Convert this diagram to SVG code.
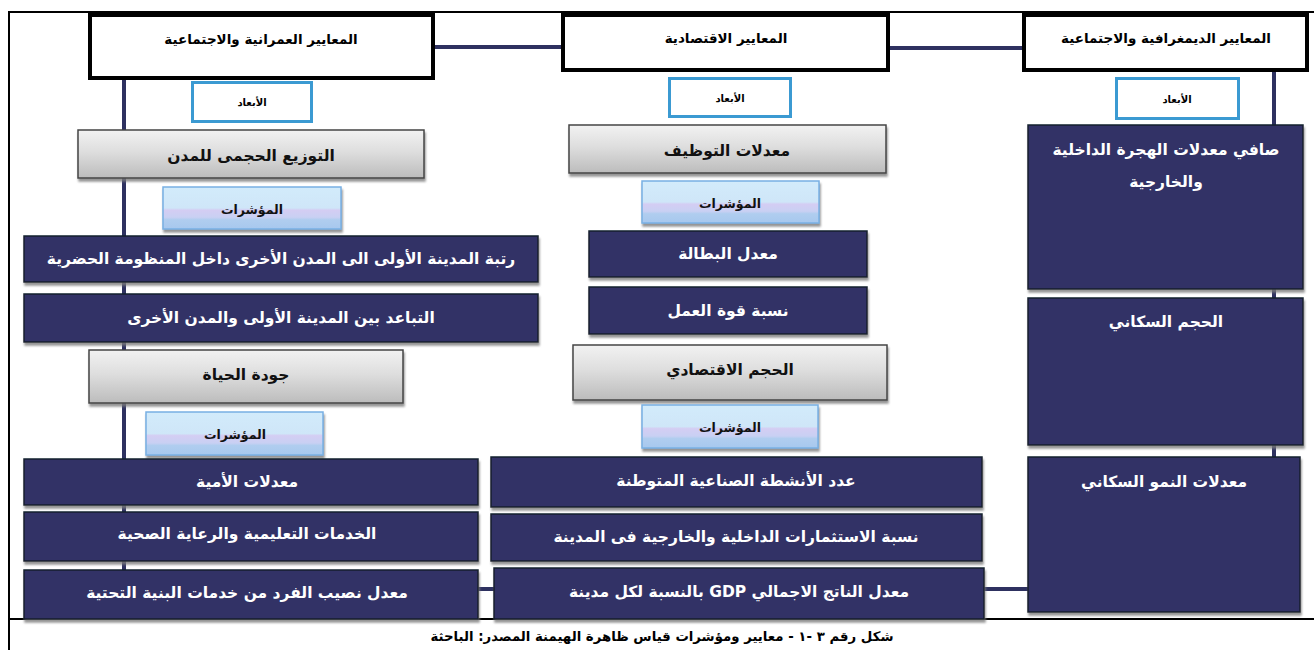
<svg xmlns="http://www.w3.org/2000/svg" width="1314" height="650" viewBox="0 0 1314 650">
<defs>
<linearGradient id="gGray" x1="0" y1="0" x2="0" y2="1">
<stop offset="0" stop-color="#f2f2f2"/>
<stop offset="0.45" stop-color="#dedede"/>
<stop offset="1" stop-color="#bcbcbc"/>
</linearGradient>
<linearGradient id="gInd" x1="0" y1="0" x2="0" y2="1">
<stop offset="0" stop-color="#d2ebfb"/>
<stop offset="0.5" stop-color="#cfe6f8"/>
<stop offset="0.55" stop-color="#d4cdf3"/>
<stop offset="0.72" stop-color="#c9d0f3"/>
<stop offset="0.78" stop-color="#b0cdef"/>
<stop offset="1" stop-color="#a7c8ee"/>
</linearGradient>
<filter id="sh" x="-5%" y="-10%" width="110%" height="140%">
<feDropShadow dx="1" dy="3" stdDeviation="1" flood-color="#7a7a7a" flood-opacity="0.8"/>
</filter>
</defs>
<style>
text{font-family:"DejaVu Sans","Liberation Sans",sans-serif;font-weight:bold;text-anchor:middle;direction:rtl}
.hdr rect{fill:#ffffff;stroke:#000;stroke-width:4}
.hdr text{font-size:13.5px;fill:#000}
.dim rect{fill:#fff;stroke:#3b9ad2;stroke-width:3}
.dim text{font-size:10px;fill:#000}
.gray rect{fill:url(#gGray);stroke:#454545;stroke-width:1.5;filter:url(#sh)}
.gray text{font-size:15.5px;fill:#111}
.ind rect{fill:url(#gInd);stroke:#78b0e4;stroke-width:1.5;filter:url(#sh)}
.ind text{font-size:12.5px;fill:#111}
.nav rect{fill:#333366;stroke:#15202e;stroke-width:1.5;filter:url(#sh)}
.nav text{font-size:15.5px;fill:#fff}
.con line{stroke:#2e3160;stroke-width:4}
.frame line{stroke:#000;stroke-width:2}
</style>
<rect x="0" y="0" width="1314" height="650" fill="#fff"/>
<g class="frame">
<line x1="8" y1="12" x2="1314" y2="12"/>
<line x1="9" y1="12" x2="9" y2="650"/>
<line x1="8" y1="619" x2="1314" y2="619"/>
</g>
<g class="con" id="connectors">
<line x1="124" y1="78" x2="124" y2="572"/>
<line x1="1274" y1="72" x2="1274" y2="459"/>
<line x1="435" y1="47" x2="563" y2="47"/>
<line x1="888" y1="48" x2="1024" y2="48"/>
<line x1="476" y1="589" x2="496" y2="589"/>
<line x1="982" y1="589" x2="1030" y2="589"/>
</g>
<g class="hdr" id="h-left"><rect x="90" y="15" width="343" height="63"/><text x="261" y="44">المعايير العمرانية والاجتماعية</text></g>
<g class="hdr" id="h-mid"><rect x="563" y="15" width="325" height="55"/><text x="726" y="43">المعايير الاقتصادية</text></g>
<g class="hdr" id="h-right"><rect x="1024" y="15" width="283" height="55"/><text x="1166" y="43">المعايير الديمغرافية والاجتماعية</text></g>
<g class="dim" id="d-left"><rect x="192.5" y="82.5" width="119" height="39"/><text x="252" y="106">الأبعاد</text></g>
<g class="dim" id="d-mid"><rect x="669.5" y="78.5" width="121" height="38"/><text x="730" y="102">الأبعاد</text></g>
<g class="dim" id="d-right"><rect x="1116.5" y="78.5" width="122" height="40"/><text x="1177" y="103">الأبعاد</text></g>
<g class="gray" id="g-left1"><rect x="78" y="130" width="346" height="48"/><text x="251" y="161">التوزيع الحجمى للمدن</text></g>
<g class="gray" id="g-mid1"><rect x="569" y="125" width="317" height="48"/><text x="727" y="156">معدلات التوظيف</text></g>
<g class="gray" id="g-left2"><rect x="89" y="350" width="314" height="53"/><text x="246" y="380">جودة الحياة</text></g>
<g class="gray" id="g-mid2"><rect x="573" y="345" width="314" height="55"/><text x="730" y="375">الحجم الاقتصادي</text></g>
<g class="ind" id="i-left1"><rect x="163" y="187" width="178" height="42"/><text x="252" y="214">المؤشرات</text></g>
<g class="ind" id="i-mid1"><rect x="642" y="181" width="177" height="42"/><text x="730" y="208">المؤشرات</text></g>
<g class="ind" id="i-left2"><rect x="146" y="412" width="177" height="43"/><text x="235" y="439">المؤشرات</text></g>
<g class="ind" id="i-mid2"><rect x="642" y="405" width="176" height="43"/><text x="730" y="432">المؤشرات</text></g>
<g class="nav" id="n-l1"><rect x="24" y="236" width="514" height="46"/><text x="281" y="264">رتبة المدينة الأولى الى المدن الأخرى داخل المنظومة الحضرية</text></g>
<g class="nav" id="n-l2"><rect x="24" y="294" width="514" height="48"/><text x="281" y="323">التباعد بين المدينة الأولى والمدن الأخرى</text></g>
<g class="nav" id="n-l3"><rect x="24" y="459" width="454" height="46"/><text x="247" y="487">معدلات الأمية</text></g>
<g class="nav" id="n-l4"><rect x="24" y="512" width="454" height="49"/><text x="247" y="539">الخدمات التعليمية والرعاية الصحية</text></g>
<g class="nav" id="n-l5"><rect x="24" y="570" width="454" height="49"/><text x="247" y="598">معدل نصيب الفرد من خدمات البنية التحتية</text></g>
<g class="nav" id="n-m1"><rect x="589" y="231" width="278" height="46"/><text x="728" y="259">معدل البطالة</text></g>
<g class="nav" id="n-m2"><rect x="589" y="287" width="278" height="47"/><text x="728" y="316">نسبة قوة العمل</text></g>
<g class="nav" id="n-m3"><rect x="491" y="457" width="491" height="50"/><text x="736" y="486">عدد الأنشطة الصناعية المتوطنة</text></g>
<g class="nav" id="n-m4"><rect x="491" y="514" width="491" height="47"/><text x="736" y="542">نسبة الاستثمارات الداخلية والخارجية فى المدينة</text></g>
<g class="nav" id="n-m5"><rect x="494" y="568" width="490" height="51"/><text x="739" y="597">معدل الناتج الاجمالي GDP بالنسبة لكل مدينة</text></g>
<g class="nav" id="n-r1"><rect x="1028" y="125" width="275" height="164"/><text x="1166" y="155">صافي معدلات الهجرة الداخلية</text><text x="1166" y="187">والخارجية</text></g>
<g class="nav" id="n-r2"><rect x="1028" y="298" width="275" height="147"/><text x="1166" y="327">الحجم السكاني</text></g>
<g class="nav" id="n-r3"><rect x="1028" y="457" width="272" height="155"/><text x="1164" y="487">معدلات النمو السكاني</text></g>
<text x="662" y="641" style="font-size:13.3px;fill:#000">شكل رقم ٣ -١ - معايير ومؤشرات قياس ظاهرة الهيمنة المصدر: الباحثة</text>
</svg>
